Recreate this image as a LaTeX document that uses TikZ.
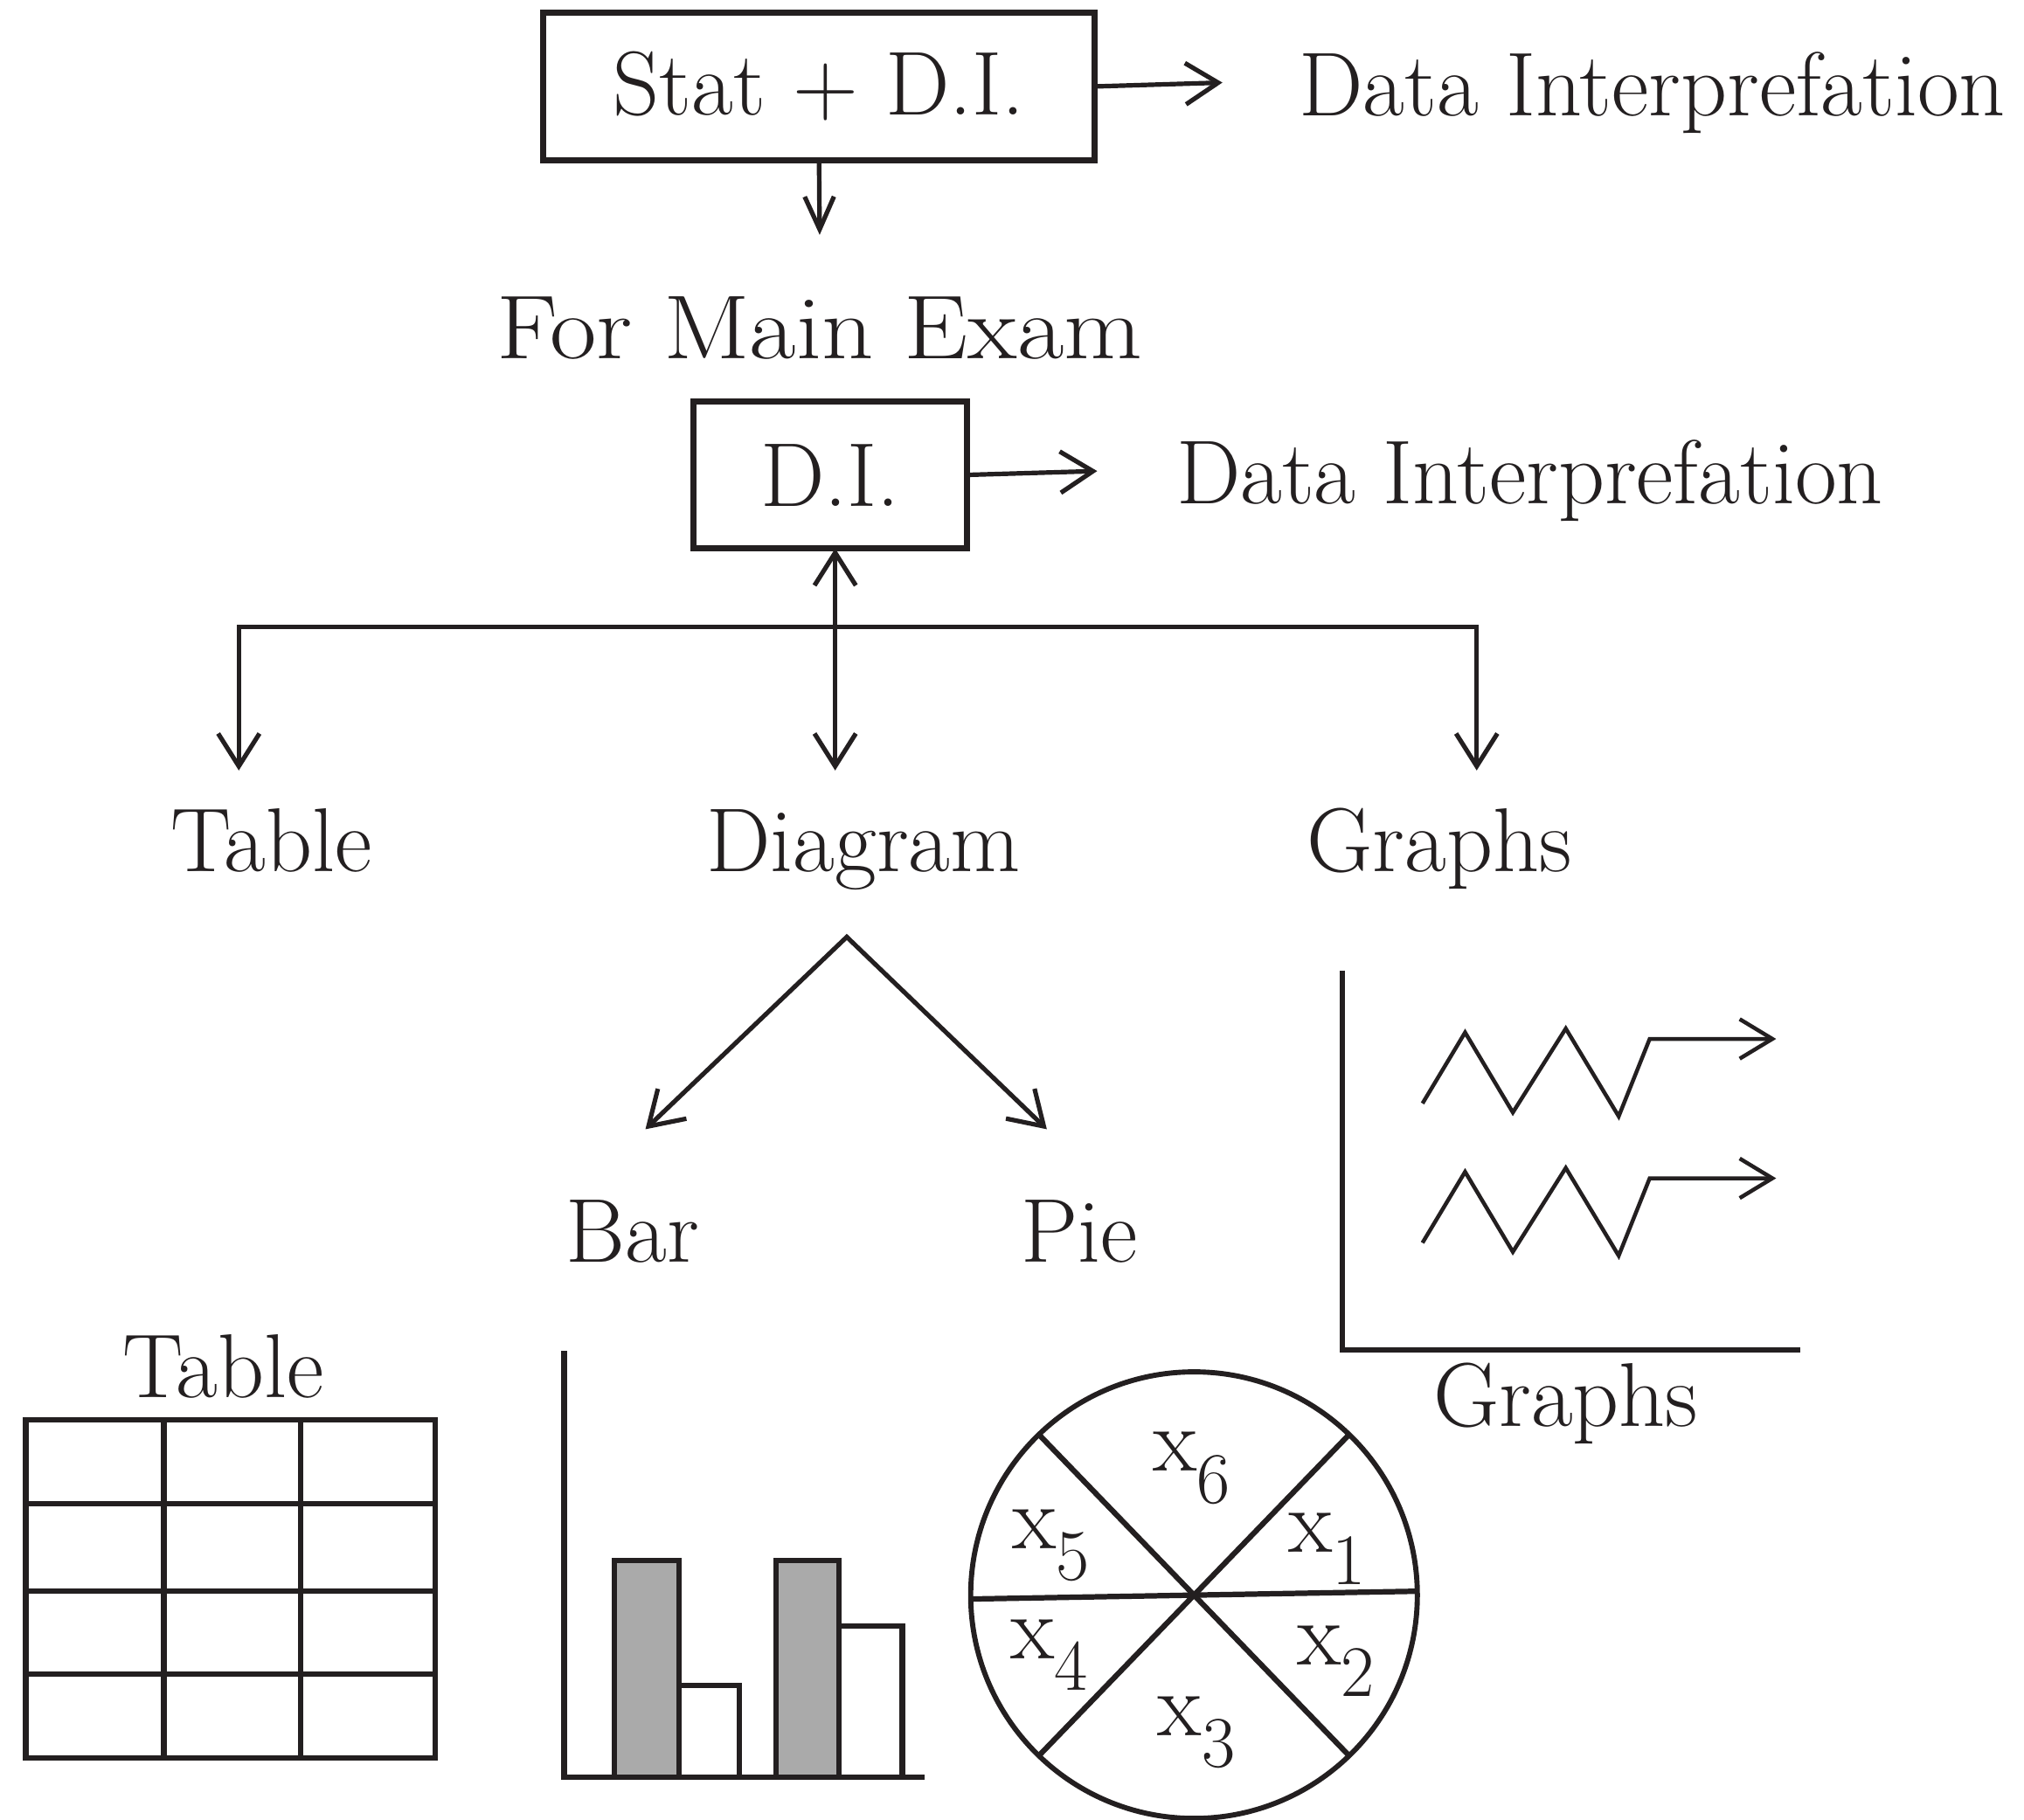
\documentclass[tikz,border=0pt]{standalone}
\usetikzlibrary{arrows.meta,positioning}
\definecolor{ink}{RGB}{35,31,32}
\definecolor{bargray}{RGB}{170,170,170}
\newcommand{\pielabel}[1]{x\raisebox{-0.35em}{\fontsize{24}{24}\selectfont #1}}

\begin{document}
\begin{tikzpicture}[x=0.015cm, y=-0.015cm,
    every node/.style={inner sep=0pt, outer sep=0pt, text=ink, font=\fontsize{30}{36}\selectfont},
    box/.style={draw=ink, line width=2.1pt, minimum height=1.71cm},
    link/.style={draw=ink, line width=1.5pt},
    onearrow/.style={-{Straight Barb[length=0.38cm,width=0.48cm]}},
    botharrow/.style={{Straight Barb[length=0.38cm,width=0.48cm]}-{Straight Barb[length=0.38cm,width=0.48cm]}},
    thick line/.style={draw=ink, line width=1.8pt},
    zigline/.style={draw=ink, line width=1.3pt, -{Straight Barb[length=0.38cm,width=0.46cm]}}]
    \useasboundingbox (0,0) rectangle (1568,1410);

    \node [box, minimum width=6.405cm] (stat) at (634.5,67) {Stat + D.I.};
    \node [anchor=base] (datatop) at (1280,90) {Data Interprefation};
    \coordinate (stattip) at (947,64);
    \draw [link, onearrow] (stat.east) -- (stattip);
    \coordinate (examtip) at (635,182);
    \draw [link, -{Straight Barb[length=0.38cm,width=0.34cm]}] (stat.south) -- (examtip);
    \node [anchor=base] (exam) at (635,278) {\scalebox{1.12}[1]{For Main Exam}};

    \node [box, minimum width=3.18cm] (di) at (643,368) {D.I.};
    \node [anchor=base] (datamid) at (1185,390) {Data Interprefation};
    \coordinate (ditip) at (850,365);
    \draw [link, onearrow] (di.east) -- (ditip);

    \coordinate (busL) at (185,486);
    \coordinate (busR) at (1144,486);
    \coordinate (tabletip) at (185,597);
    \coordinate (diagtip) at (647,597);
    \coordinate (graphtip) at (1144,597);
    \draw [link, botharrow] (di.south -| diagtip) -- (diagtip);
    \draw [link, botharrow] (tabletip) -- (busL) -- (busR) -- (graphtip);
    \node [anchor=base] (table) at (210,675) {Table};
    \node [anchor=base] (diagram) at (669,675) {Diagram};
    \node [anchor=base] (graphs) at (1115,675) {Graphs};

    \coordinate (apex) at (656,726);
    \coordinate (bartip) at (500,875);
    \coordinate (pietip) at (811,875);
    \draw [link, botharrow] (bartip) -- (apex) -- (pietip);
    \node [anchor=base] (bar) at (490,978) {Bar};
    \node [anchor=base] (pie) at (836,978) {Pie};

    \node [anchor=base] (tablecap) at (173,1083) {Table};
    \draw [thick line] (20,1100) rectangle (337,1362);
    \foreach \x in {127,233}
        \draw [thick line] (\x,1100) -- (\x,1362);
    \foreach \y in {1165,1233,1297}
        \draw [thick line] (20,\y) -- (337,\y);

    \draw [thick line, fill=white] (526,1306) rectangle (573,1377);
    \draw [thick line, fill=white] (650,1260) rectangle (699,1377);
    \draw [thick line, fill=bargray] (476,1209) rectangle (526,1377);
    \draw [thick line, fill=bargray] (601,1209) rectangle (650,1377);
    \draw [thick line] (437,1047) -- (437,1377) -- (716,1377);

    \node [circle, draw=ink, line width=1.7pt, minimum size=5.19cm] (piec) at (925,1236) {};
    \draw [thick line] (piec.46) -- (piec.226);
    \draw [thick line] (piec.134) -- (piec.314);
    \draw [thick line] (piec.181) -- (piec.1);
    \node [anchor=base] (x6) at (923,1140) {\pielabel{6}};
    \node [anchor=base] (x1) at (1028,1203) {\pielabel{1}};
    \node [anchor=base] (x5) at (814,1200) {\pielabel{5}};
    \node [anchor=base] (x4) at (813,1285) {\pielabel{4}};
    \node [anchor=base] (x2) at (1035,1290) {\pielabel{2}};
    \node [anchor=base] (x3) at (927,1345) {\pielabel{3}};

    \draw [thick line] (1040,752) -- (1040,1046) -- (1395,1046);
    \foreach \dy in {0,108}
        \draw [zigline, shift={(0,\dy)}] (1102,855) -- (1135,800) -- (1172,862) -- (1213,797) -- (1254,865) -- (1278,805) -- (1376,805);
    \node [anchor=base] (graphcap) at (1213,1105) {Graphs};
\end{tikzpicture}
\end{document}
